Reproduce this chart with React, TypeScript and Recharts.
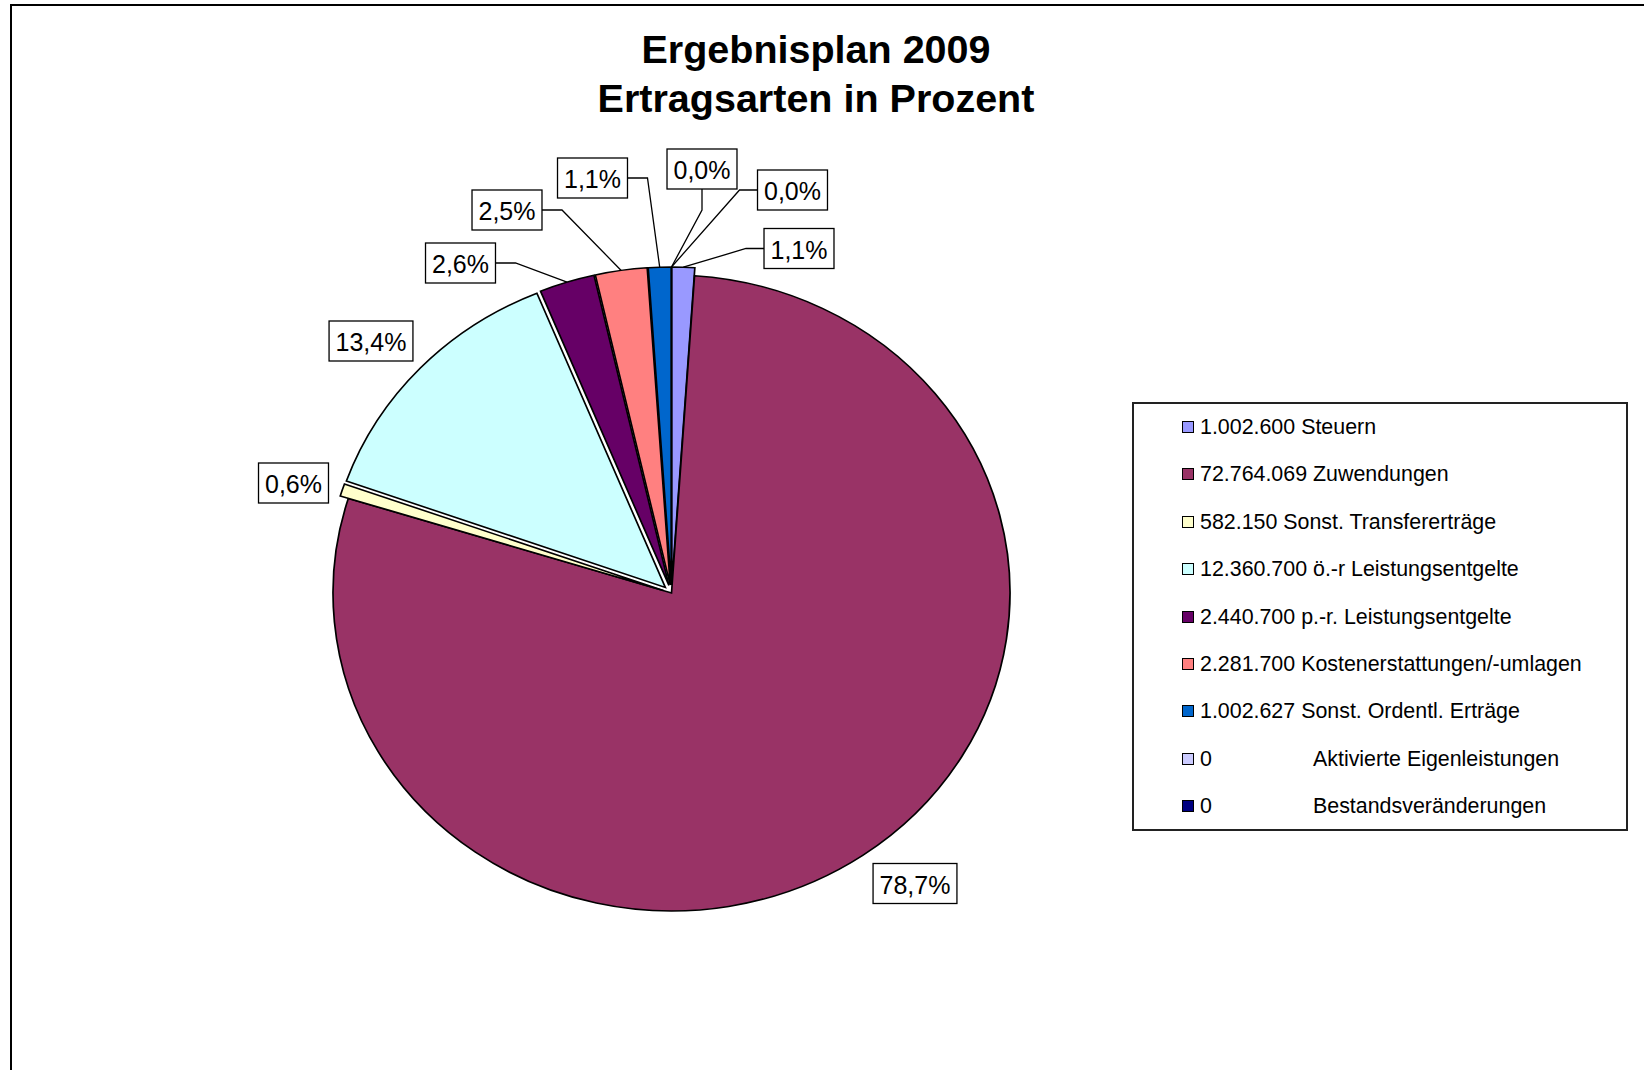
import React from 'react';
import { PieChart, Pie, Cell, Sector, Legend } from 'recharts';

const titleLines = ['Ergebnisplan 2009', 'Ertragsarten in Prozent'];
const names = [
  'Steuern',
  'Zuwendungen',
  'Sonst. Transfererträge',
  'ö.-r Leistungsentgelte',
  'p.-r. Leistungsentgelte',
  'Kostenerstattungen/-umlagen',
  'Sonst. Ordentl. Erträge',
  'Aktivierte Eigenleistungen',
  'Bestandsveränderungen',
];
const amounts = [1002600, 72764069, 582150, 12360700, 2440700, 2281700, 1002627, 0, 0];
const colors = ['#9999FF', '#993366', '#FFFFCC', '#CCFFFF', '#660066', '#FF8080', '#0066CC', '#CCCCFF', '#000080'];

const data = names.map((name, i) => ({ name, value: amounts[i] }));

// pie geometry (the original pie is slightly wider than tall)
const CX = 671.5;
const CY = 593;
const RY = 318;
const RX = 338.5;
const SX = RX / RY;
const EXPLODE = [8, 0, 8, 8, 8, 8, 8, 8, 8];
// label box centre relative to pie centre + leader style
const LABEL_LAYOUT: [number, number, string][] = [
  [127.5, -344.5, 'L'],
  [243.5, 290.5, ''],
  [-378, -110, ''],
  [-300.5, -252, ''],
  [-211, -330, 'R'],
  [-164.5, -383, 'R'],
  [-79, -415, 'R'],
  [30.5, -424, 'D'],
  [121, -403, 'L'],
];

const FONT = '"Liberation Sans", Arial, sans-serif';
const RAD = Math.PI / 180;

const fmtDe = (n: number) => String(n).replace(/\B(?=(\d{3})+(?!\d))/g, '.');

const charW: Record<string, number> = { ',': 0.278, '%': 0.889 };
const textWidth = (s: string, fs: number) =>
  s.split('').reduce((w, c) => w + (charW[c] ?? 0.556), 0) * fs;

const renderSlice = (props: any) => {
  const { cx, cy, midAngle, innerRadius, outerRadius, startAngle, endAngle, fill, index } = props;
  const e = EXPLODE[index] ?? 0;
  const dx = Math.cos(-midAngle * RAD) * e * SX;
  const dy = Math.sin(-midAngle * RAD) * e;
  return (
    <g transform={`translate(${cx + dx},${cy + dy}) scale(${SX},1) translate(${-cx},${-cy})`}>
      <Sector
        cx={cx}
        cy={cy}
        innerRadius={innerRadius}
        outerRadius={outerRadius}
        startAngle={startAngle}
        endAngle={endAngle}
        fill={fill}
        stroke="#000"
        strokeWidth={1.6}
      />
    </g>
  );
};

const renderLabel = (props: any) => {
  const { cx, cy, midAngle, percent, index } = props;
  const [ox, oy, leader] = LABEL_LAYOUT[index];
  const fs = 25;
  const text = (percent * 100).toFixed(1).replace('.', ',') + '%';
  const w = textWidth(text, fs) + 13;
  const h = 40;
  const bx = cx + ox;
  const by = cy + oy;
  const e = EXPLODE[index] ?? 0;
  const px = cx + Math.cos(midAngle * RAD) * (RX + e);
  const py = cy - Math.sin(midAngle * RAD) * (RY + e);
  let path = '';
  if (leader === 'L') path = `M${bx - w / 2},${by}H${bx - w / 2 - 18}L${px},${py}`;
  if (leader === 'R') path = `M${bx + w / 2},${by}H${bx + w / 2 + 20}L${px},${py}`;
  if (leader === 'D') path = `M${bx},${by + h / 2}V${by + h / 2 + 21}L${px},${py}`;
  return (
    <g key={`lbl-${index}`}>
      {path && <path d={path} fill="none" stroke="#000" strokeWidth={1.3} />}
      <rect x={bx - w / 2} y={by - h / 2} width={w} height={h} fill="#fff" stroke="#000" strokeWidth={1.3} />
      <text
        x={bx}
        y={by + 1}
        textAnchor="middle"
        dominantBaseline="central"
        fontFamily={FONT}
        fontSize={fs}
        fill="#000"
      >
        {text}
      </text>
    </g>
  );
};

const renderLegend = () => (
  <div
    style={{
      position: 'relative',
      width: 496,
      height: 429,
      border: '2px solid #222',
      boxSizing: 'border-box',
      background: '#fff',
      fontFamily: FONT,
      fontSize: 21.4,
      color: '#000',
    }}
  >
    {data.map((d, i) => {
      const top = 23 + i * 47.4;
      return (
        <div key={d.name} style={{ position: 'absolute', left: 0, top: top - 14, height: 28, width: '100%' }}>
          <div
            style={{
              position: 'absolute',
              left: 48,
              top: 8,
              width: 12,
              height: 12,
              boxSizing: 'border-box',
              border: '1px solid #000',
              background: colors[i],
            }}
          />
          {d.value === 0 ? (
            <>
              <span style={{ position: 'absolute', left: 66, top: 0, lineHeight: '28px' }}>0</span>
              <span style={{ position: 'absolute', left: 179, top: 0, lineHeight: '28px', whiteSpace: 'nowrap' }}>
                {d.name}
              </span>
            </>
          ) : (
            <span style={{ position: 'absolute', left: 66, top: 0, lineHeight: '28px', whiteSpace: 'nowrap' }}>
              {fmtDe(d.value)} {d.name}
            </span>
          )}
        </div>
      );
    })}
  </div>
);

export default function App() {
  return (
    <div
      style={{
        position: 'absolute',
        left: 0,
        top: 0,
        width: 1644,
        height: 1070,
        overflow: 'hidden',
        background: '#fff',
      }}
    >
      <div
        style={{
          position: 'absolute',
          left: 10,
          top: 4,
          width: 1800,
          height: 1200,
          borderLeft: '2px solid #000',
          borderTop: '2px solid #000',
        }}
      />
      {titleLines.map((t, i) => (
        <div
          key={t}
          style={{
            position: 'absolute',
            left: 0,
            width: 1632,
            top: 25 + i * 49,
            height: 49,
            lineHeight: '49px',
            textAlign: 'center',
            fontFamily: FONT,
            fontWeight: 'bold',
            fontSize: 39.5,
            color: '#000',
          }}
        >
          {t}
        </div>
      ))}
      <div style={{ position: 'absolute', left: 0, top: 0 }}>
        <PieChart width={1644} height={1070} margin={{ top: 0, right: 0, bottom: 0, left: 0 }}>
          <Pie
            data={data}
            dataKey="value"
            nameKey="name"
            cx={CX}
            cy={CY}
            outerRadius={RY}
            startAngle={90}
            endAngle={-270}
            stroke="#000"
            strokeWidth={1.6}
            shape={renderSlice}
            label={renderLabel}
            labelLine={false}
            isAnimationActive={false}
          >
            {data.map((d, i) => (
              <Cell key={d.name} fill={colors[i]} />
            ))}
          </Pie>
          <Legend
            layout="vertical"
            align="right"
            verticalAlign="top"
            content={renderLegend}
            wrapperStyle={{ position: 'absolute', left: 1132, top: 402, width: 496, height: 429 }}
          />
        </PieChart>
      </div>
    </div>
  );
}
